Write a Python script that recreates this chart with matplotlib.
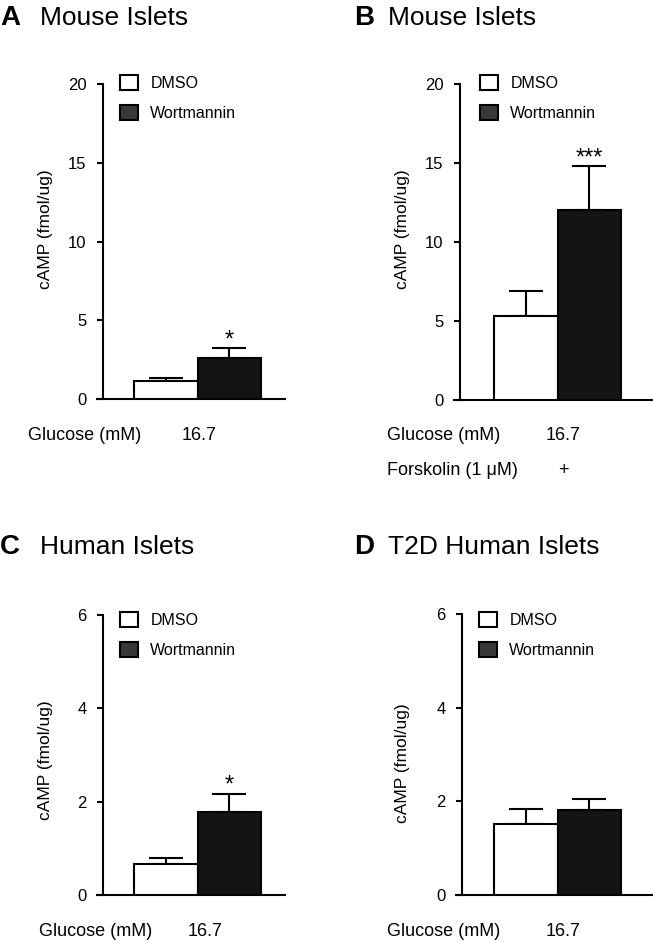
import matplotlib
matplotlib.use('Agg')
import matplotlib.pyplot as plt
from matplotlib.transforms import Affine2D
from matplotlib.patches import Patch

W, H = 653, 941
plt.rcParams['font.family'] = ['Liberation Sans', 'DejaVu Sans']

# ---------------- data ----------------
groups = ['DMSO', 'Wortmannin']
panel_letters = ['A', 'B', 'C', 'D']
panel_titles = ['Mouse Islets', 'Mouse Islets', 'Human Islets', 'T2D Human Islets']

means_A = [1.14, 2.62]
errs_A = [0.21, 0.60]
means_B = [5.27, 12.04]
errs_B = [1.61, 2.75]
means_C = [0.66, 1.77]
errs_C = [0.14, 0.40]
means_D = [1.51, 1.81]
errs_D = [0.32, 0.25]

significance = ['*', '***', '*', '']
yticks_mouse = [0, 5, 10, 15, 20]
yticks_human = [0, 2, 4, 6]
ylabel = 'cAMP (fmol/ug)'
glucose_label = 'Glucose (mM)'
glucose_value = '16.7'
forskolin_label = 'Forskolin (1 \u03bcM)'
forskolin_value = '+'

# ---------------- figure ----------------
fig = plt.figure(figsize=(W / 100, H / 100), dpi=100)
px = Affine2D().scale(1, -1).translate(0, H)  # pixel coords, origin top-left

bar_colors = ['white', '#141414']
legend_colors = ['white', '#383838']
S = 63.5  # pixels per data unit along x

layout = [
    # x0, x1, spine_x, bar_left, y_top, y_bot, legend_xy, ylabel_xy, title_base, letter_x, title_x
    dict(x0=97, x1=285, sx=103, bl=134, yt=84, yb=399, leg=(120, 75), yl=(53, 229),
         tb=25, lx=0, tx=40, gx=28, gb=440, gv=199),
    dict(x0=454, x1=653, sx=460, bl=494, yt=84, yb=399.5, leg=(480, 75), yl=(410, 229),
         tb=25, lx=354, tx=388, gx=387, gb=440, gv=563),
    dict(x0=97, x1=285, sx=103, bl=134, yt=615, yb=895, leg=(120, 612), yl=(53, 760),
         tb=554, lx=0, tx=40, gx=39, gb=936, gv=205),
    dict(x0=456, x1=653, sx=462, bl=494, yt=614, yb=895, leg=(479, 612), yl=(410, 763),
         tb=554, lx=354, tx=388, gx=387, gb=936, gv=563),
]

all_means = [means_A, means_B, means_C, means_D]
all_errs = [errs_A, errs_B, errs_C, errs_D]
all_ticks = [yticks_mouse, yticks_mouse, yticks_human, yticks_human]

for i in range(4):
    L = layout[i]
    ax = fig.add_axes([L['x0'] / W, 1 - L['yb'] / H,
                       (L['x1'] - L['x0']) / W, (L['yb'] - L['yt']) / H])
    ticks = all_ticks[i]
    ax.set_ylim(ticks[0], ticks[-1])
    ax.set_xlim(-0.5 + (L['x0'] - L['bl']) / S, -0.5 + (L['x1'] - L['bl']) / S)
    xs = [0, 1]
    ax.bar(xs, all_means[i], width=1.0, color=bar_colors, edgecolor='black',
           linewidth=1.5, zorder=3)
    ax.errorbar(xs, all_means[i], yerr=[[0, 0], all_errs[i]], fmt='none',
                ecolor='black', elinewidth=1.5, capsize=11.9, capthick=1.5, zorder=2)
    if significance[i]:
        ax.annotate(significance[i], xy=(1, all_means[i][1] + all_errs[i][1]),
                    xytext=(0, 1.5), textcoords='offset points', ha='center',
                    va='baseline', fontsize=17)
    for s in ['top', 'right']:
        ax.spines[s].set_visible(False)
    ax.spines['left'].set_position(('data', -0.5 + (L['sx'] - L['bl']) / S))
    ax.spines['left'].set_linewidth(1.5)
    ax.spines['bottom'].set_linewidth(1.5)
    ax.set_yticks(ticks)
    ax.set_xticks([])
    ax.tick_params(axis='y', length=4.3, width=1.5, pad=7.5, labelsize=12)
    ax.patch.set_visible(False)
    ax.set_ylabel(ylabel, fontsize=12.5)
    ax.yaxis.set_label_coords(L['yl'][0], L['yl'][1], transform=px)

    handles = [Patch(facecolor=c, edgecolor='black', linewidth=1.5) for c in legend_colors]
    ax.legend(handles, groups, loc='upper left', bbox_to_anchor=L['leg'],
              bbox_transform=px, frameon=False, borderpad=0, borderaxespad=0,
              handlelength=1.15, handleheight=1.1, handletextpad=0.75,
              labelspacing=0.85, fontsize=11.5)

    fig.text(L['lx'], L['tb'], panel_letters[i], transform=px, fontsize=20,
             fontweight='bold', ha='left', va='baseline')
    fig.text(L['tx'], L['tb'], panel_titles[i], transform=px, fontsize=19,
             ha='left', va='baseline')

    fig.text(L['gx'], L['gb'], glucose_label, transform=px, fontsize=13,
             ha='left', va='baseline')
    fig.text(L['gv'], L['gb'], glucose_value, transform=px, fontsize=13,
             ha='center', va='baseline')
    if i == 1:
        fig.text(L['gx'], L['gb'] + 35, forskolin_label, transform=px, fontsize=13,
                 ha='left', va='baseline')
        fig.text(L['gv'], L['gb'] + 35, forskolin_value, transform=px, fontsize=13,
                 ha='center', va='baseline')

fig.savefig('out.png', dpi=100)
